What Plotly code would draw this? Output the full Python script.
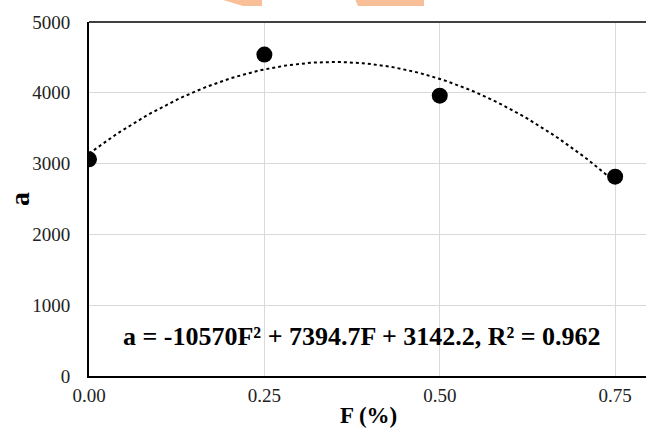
import numpy as np
import plotly.graph_objects as go

# Data
F_values = [0.00, 0.25, 0.50, 0.75]
a_values = [3060, 4540, 3960, 2815]
fit_coeffs = [-10570, 7394.7, 3142.2]  # quadratic trendline coefficients shown in the chart
x_ticks = [0.00, 0.25, 0.50, 0.75]
y_ticks = [0, 1000, 2000, 3000, 4000, 5000]
equation_text = "a = -10570F² + 7394.7F + 3142.2, R² = 0.962"

W, H = 646, 430
L, R, T, B = 89, 0, 22, 54
XMAX = 0.794

fx = np.linspace(min(F_values), max(F_values), 120)
fy = np.polyval(fit_coeffs, fx)

serif = "Liberation Serif, Times New Roman, serif"

def px(xp):
    return (xp - L) / (W - L - R)
def py(yp):
    return (H - B - yp) / (H - T - B)

fig = go.Figure()
fig.add_trace(go.Scatter(x=fx, y=fy, mode="lines",
                         line=dict(color="black", width=2, dash="dot"),
                         hoverinfo="skip", showlegend=False))
fig.add_trace(go.Scatter(x=F_values, y=a_values, mode="markers",
                         marker=dict(color="black", size=16),
                         showlegend=False))

fig.add_annotation(x=px(362), y=py(336), xref="paper", yref="paper", text="<b>" + equation_text + "</b>",
                   showarrow=False, font=dict(family=serif, size=26, color="black"),
                   xanchor="center", yanchor="middle")
fig.add_annotation(x=px(368), y=py(415), xref="paper", yref="paper",
                   text="<b>F (%)</b>", showarrow=False,
                   font=dict(family=serif, size=23, color="black"),
                   xanchor="center", yanchor="middle")
fig.add_annotation(x=px(19), y=py(199), xref="paper", yref="paper",
                   text="<b>a</b>", showarrow=False, textangle=-90,
                   font=dict(family=serif, size=28, color="black"),
                   xanchor="center", yanchor="middle")

# top border
fig.add_shape(type="line", xref="paper", yref="paper", x0=0, x1=1, y0=1, y1=1,
              line=dict(color="#404040", width=2))

# watermark fragments at the top edge
fig.add_shape(type="path", xref="paper", yref="paper",
              path=f"M {px(220)} {py(-1)} L {px(262)} {py(-1)} L {px(262)} {py(6)} L {px(243)} {py(6)} Z",
              fillcolor="#f8bf98", line=dict(width=0))
fig.add_shape(type="path", xref="paper", yref="paper",
              path=f"M {px(355)} {py(-1)} L {px(424)} {py(-1)} L {px(424)} {py(6)} L {px(358)} {py(6)} Z",
              fillcolor="#f8bf98", line=dict(width=0))

fig.update_layout(
    width=W, height=H,
    margin=dict(l=L, r=R, t=T, b=B),
    paper_bgcolor="white", plot_bgcolor="white",
    font=dict(family=serif, size=19, color="#222"),
    xaxis=dict(range=[0, XMAX], tickvals=x_ticks, tickformat=".2f",
               showgrid=True, gridcolor="#d9d9d9", gridwidth=1,
               showline=True, linecolor="black", linewidth=2,
               zeroline=False, ticks="", ticklabelstandoff=1),
    yaxis=dict(range=[0, 5000], tickvals=y_ticks,
               showgrid=True, gridcolor="#d9d9d9", gridwidth=1,
               showline=True, linecolor="black", linewidth=2,
               zeroline=False, ticks="", ticklabelstandoff=13),
)

fig.write_html("out.html")
